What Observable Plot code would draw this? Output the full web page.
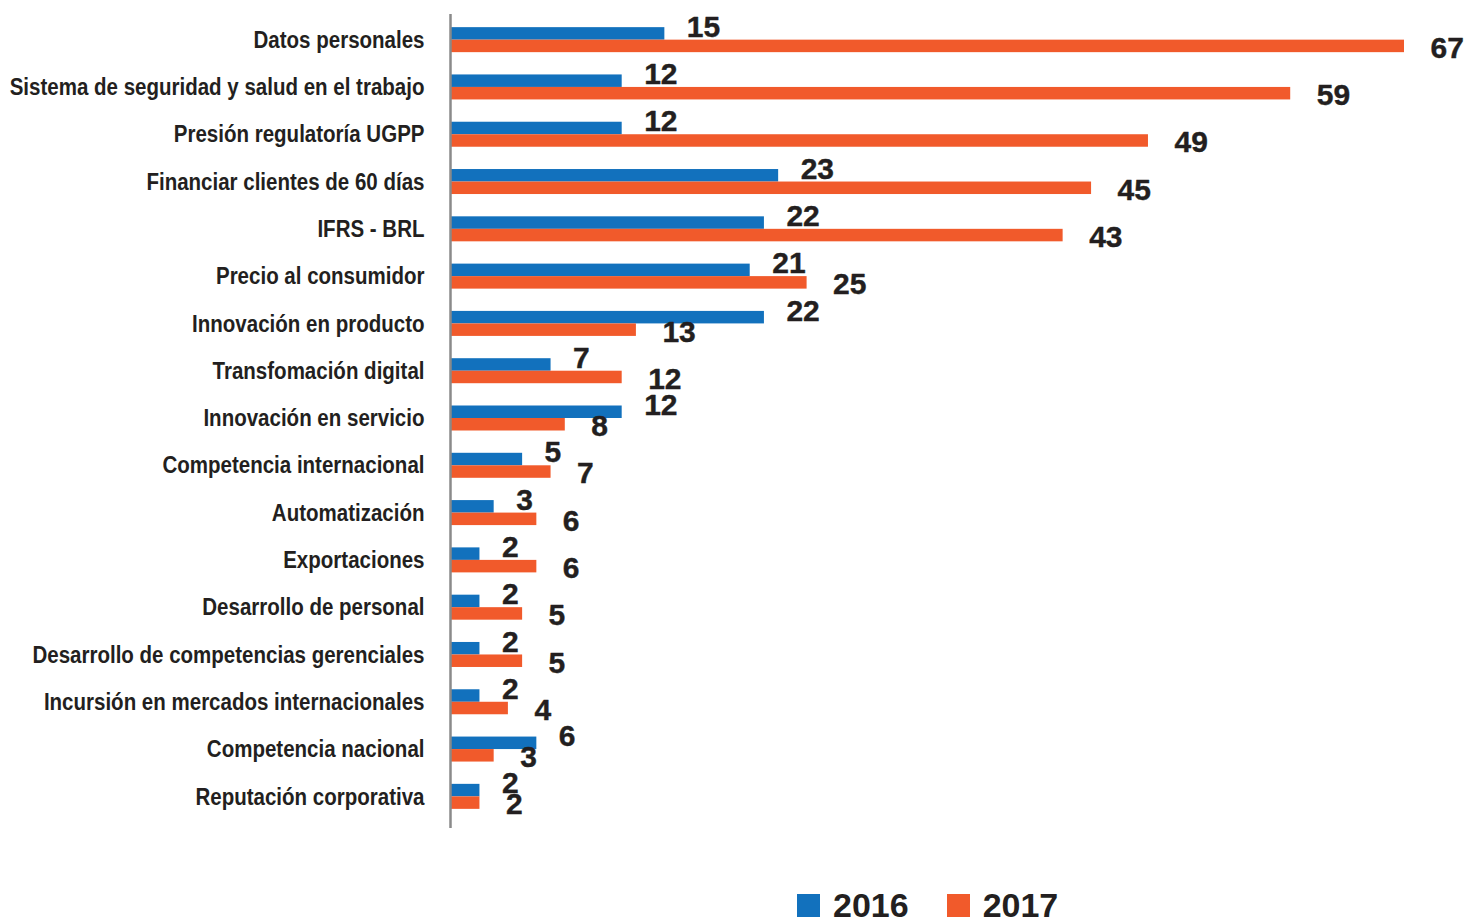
<!DOCTYPE html>
<html>
<head>
<meta charset="utf-8">
<script src="https://cdn.jsdelivr.net/npm/d3@7"></script>
<script src="https://cdn.jsdelivr.net/npm/@observablehq/plot@0.6"></script>
<style>
  html, body { margin: 0; padding: 0; background: #fff; }
  #chart svg { display: block; }
  .legend { display: flex; align-items: center; margin-left: 797px; margin-top: 38px;
    font-family: "Liberation Sans", Arial, sans-serif; font-weight: bold; font-size: 34px; color: #231f20; }
  .legend .sw { width: 23px; height: 23px; display: inline-block; margin-right: 13px; }
  .legend .item { display: flex; align-items: center; margin-right: 38px; line-height: 1; }
</style>
</head>
<body>
<div id="chart"></div>
<div class="legend">
  <span class="item"><span class="sw" style="background:#1271bd"></span><span>2016</span></span>
  <span class="item"><span class="sw" style="background:#f15a2b"></span><span>2017</span></span>
</div>
<script>
const categories = [
  "Datos personales",
  "Sistema de seguridad y salud en el trabajo",
  "Presión regulatoría UGPP",
  "Financiar clientes de 60 días",
  "IFRS - BRL",
  "Precio al consumidor",
  "Innovación en producto",
  "Transfomación digital",
  "Innovación en servicio",
  "Competencia internacional",
  "Automatización",
  "Exportaciones",
  "Desarrollo de personal",
  "Desarrollo de competencias gerenciales",
  "Incursión en mercados internacionales",
  "Competencia nacional",
  "Reputación corporativa"
];
const values2016 = [15, 12, 12, 23, 22, 21, 22, 7, 12, 5, 3, 2, 2, 2, 2, 6, 2];
const values2017 = [67, 59, 49, 45, 43, 25, 13, 12, 8, 7, 6, 6, 5, 5, 4, 3, 2];
const years = ["2016", "2017"];
const colors = ["#1271bd", "#f15a2b"];

const data2016 = categories.map((c, i) => ({category: c, value: values2016[i]}));
const data2017 = categories.map((c, i) => ({category: c, value: values2017[i]}));

const height = 850, marginTop = 16, marginBottom = 30;
const step = (height - marginTop - marginBottom) / categories.length;
const half = step / 2;
const barH = 12.5;

const textColor = "#231f20";
const numFont = "Liberation Sans, Arial, sans-serif";

const chart = Plot.plot({
  width: 1466,
  height,
  marginTop,
  marginBottom,
  marginLeft: 451,
  marginRight: 62,
  x: {domain: [0, 67], axis: null},
  y: {domain: categories, padding: 0, round: false, label: null},
  marks: [
    Plot.barX(data2016, {x: "value", y: "category", fill: colors[0],
      insetTop: half - barH, insetBottom: half}),
    Plot.barX(data2017, {x: "value", y: "category", fill: colors[1],
      insetTop: half, insetBottom: half - barH}),
    Plot.ruleX([0], {stroke: "#8a8a8a", strokeWidth: 2.5, dx: -1, insetTop: -2, insetBottom: -8}),
    Plot.axisY({tickSize: 0, tickPadding: 27, fontSize: 24, fontWeight: "bold",
      fontFamily: "Liberation Sans, Arial, sans-serif", fill: textColor, label: null,
      stroke: textColor, strokeWidth: 0.4}),
    Plot.text(data2016, {x: "value", y: "category", text: d => String(d.value),
      textAnchor: "start", dx: 22, dy: -13, fontSize: 30, fontWeight: "bold",
      fontFamily: numFont, fill: textColor, stroke: textColor, strokeWidth: 0.4}),
    Plot.text(data2017, {x: "value", y: "category", text: d => String(d.value),
      textAnchor: "start", dx: 26, dy: 8, fontSize: 30, fontWeight: "bold",
      fontFamily: numFont, fill: textColor, stroke: textColor, strokeWidth: 0.4})
  ]
});
document.getElementById("chart").appendChild(chart);

// condense the category labels horizontally (narrow typeface look)
const sx = 0.855;
d3.select(chart).selectAll('g[aria-label="y-axis tick label"] text').each(function() {
  const el = d3.select(this);
  const xa = el.attr("x");
  const t = el.attr("transform") || "";
  let pre = "";
  if (xa != null && !isNaN(+xa)) { pre = ` translate(${+xa},0)`; el.attr("x", null); }
  el.attr("transform", `${t}${pre} scale(${sx},1)`);
});
</script>
</body>
</html>
